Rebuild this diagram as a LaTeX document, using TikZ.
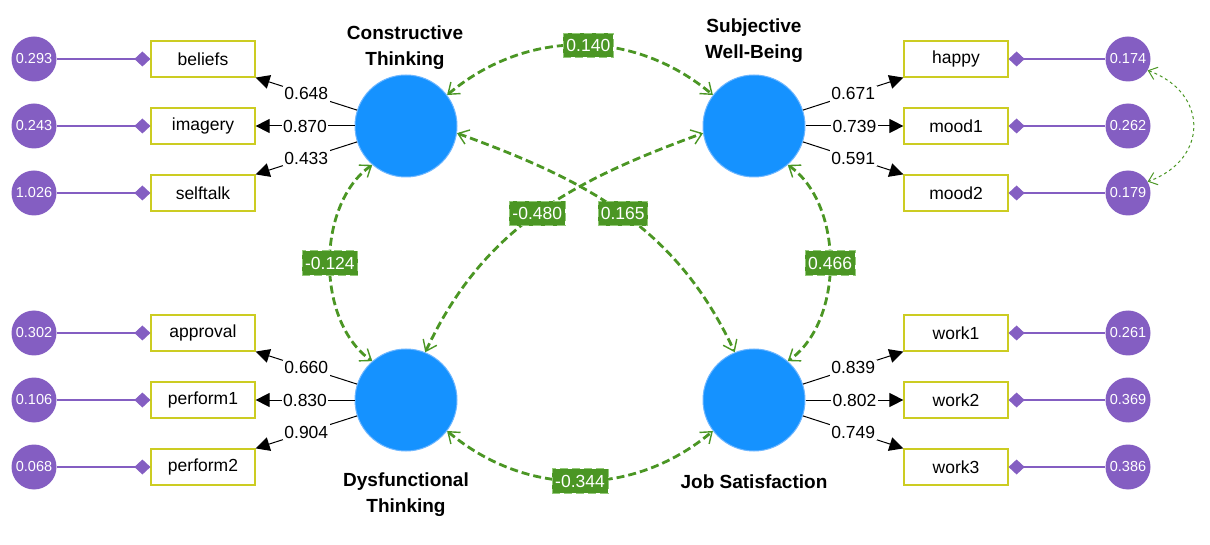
\documentclass[tikz,border=0pt]{standalone}
\usepackage{fontspec}
\setmainfont{Liberation Sans}
\usetikzlibrary{arrows.meta}

\definecolor{latblue}{HTML}{1592FF}
\definecolor{latedge}{HTML}{6DB6FF}
\definecolor{respurple}{HTML}{845EC2}
\definecolor{obsyellow}{HTML}{CCCC22}
\definecolor{covgreen}{HTML}{4B9624}
\definecolor{covedge}{HTML}{93C978}

\begin{document}
\begin{tikzpicture}[x=1pt, y=1pt,
  latent/.style={circle, minimum size=102pt, inner sep=0pt, fill=latblue, draw=latedge, line width=1pt},
  latname/.style={align=center, font=\fontsize{19}{26}\selectfont\bfseries},
  obs/.style={draw=obsyellow, line width=1.2pt, fill=white, minimum width=104pt, minimum height=36pt, inner sep=0pt, font=\fontsize{17.5}{20}\selectfont},
  res/.style={circle, minimum size=45pt, inner sep=0pt, fill=respurple, text=white, font=\fontsize{14.5}{16}\selectfont},
  resline/.style={respurple, line width=1.2pt, -{Diamond[length=16pt, width=15pt]}},
  load/.style={black, line width=1pt, -{Triangle[length=14pt, width=14pt]}},
  loadlab/.style={fill=white, inner sep=1.5pt, font=\fontsize{17.5}{20}\selectfont},
  cov/.style={covgreen, line width=2.8pt, dash pattern=on 8pt off 4pt,
    {Straight Barb[length=10pt, width=15pt, line width=1.4pt]}-{Straight Barb[length=10pt, width=15pt, line width=1.4pt]}},
  covlab/.style={fill=covgreen, draw=covedge, line width=0.6pt, text=white, inner xsep=3pt, inner ysep=6pt, text height=12.5pt, text depth=0pt, font=\fontsize{17.5}{20}\selectfont},
  rescov/.style={covgreen, line width=1pt, dash pattern=on 3pt off 3pt,
    {Straight Barb[length=8pt, width=13pt, line width=1pt]}-{Straight Barb[length=8pt, width=13pt, line width=1pt]}}]

\useasboundingbox (0,0) rectangle (1210,544);

\node[latent] (ct) at (406,418) {};
\node[latent] (swb) at (754,418) {};
\node[latent] (dt) at (406,144) {};
\node[latent] (js) at (754,144) {};

\node[latname] (ctname) at (405,496) {Constructive\\Thinking};
\node[latname] (swbname) at (754,503) {Subjective\\Well-Being};
\node[latname] (dtname) at (406,49) {Dysfunctional\\Thinking};
\node[latname] (jsname) at (754,62) {Job Satisfaction};

\node[obs] (beliefs) at (203,485) {beliefs};
\node[obs] (imagery) at (203,418) {imagery};
\node[obs] (selftalk) at (203,351) {selftalk};
\node[obs] (approval) at (203,211) {approval};
\node[obs] (perform1) at (203,144) {perform1};
\node[obs] (perform2) at (203,77) {perform2};

\node[obs] (happy) at (956,485) {happy};
\node[obs] (mood1) at (956,418) {mood1};
\node[obs] (mood2) at (956,351) {mood2};
\node[obs] (work1) at (956,211) {work1};
\node[obs] (work2) at (956,144) {work2};
\node[obs] (work3) at (956,77) {work3};

\node[res] (ebeliefs) at (34,485) {0.293};
\node[res] (eimagery) at (34,418) {0.243};
\node[res] (eselftalk) at (34,351) {1.026};
\node[res] (eapproval) at (34,211) {0.302};
\node[res] (eperform1) at (34,144) {0.106};
\node[res] (eperform2) at (34,77) {0.068};

\node[res] (ehappy) at (1128,485) {0.174};
\node[res] (emood1) at (1128,418) {0.262};
\node[res] (emood2) at (1128,351) {0.179};
\node[res] (ework1) at (1128,211) {0.261};
\node[res] (ework2) at (1128,144) {0.369};
\node[res] (ework3) at (1128,77) {0.386};

\draw[resline] (ebeliefs) -- (beliefs.west);
\draw[resline] (eimagery) -- (imagery.west);
\draw[resline] (eselftalk) -- (selftalk.west);
\draw[resline] (eapproval) -- (approval.west);
\draw[resline] (eperform1) -- (perform1.west);
\draw[resline] (eperform2) -- (perform2.west);

\draw[resline] (ehappy) -- (happy.east);
\draw[resline] (emood1) -- (mood1.east);
\draw[resline] (emood2) -- (mood2.east);
\draw[resline] (ework1) -- (work1.east);
\draw[resline] (ework2) -- (work2.east);
\draw[resline] (ework3) -- (work3.east);

\draw[load] (ct.162) -- (beliefs.south east) node[loadlab, midway] {0.648};
\draw[load] (ct.180) -- (imagery.east) node[loadlab, midway] {0.870};
\draw[load] (ct.198) -- (selftalk.north east) node[loadlab, midway] {0.433};

\draw[load] (dt.162) -- (approval.south east) node[loadlab, midway] {0.660};
\draw[load] (dt.180) -- (perform1.east) node[loadlab, midway] {0.830};
\draw[load] (dt.198) -- (perform2.north east) node[loadlab, midway] {0.904};

\draw[load] (swb.18) -- (happy.south west) node[loadlab, midway] {0.671};
\draw[load] (swb.0) -- (mood1.west) node[loadlab, midway] {0.739};
\draw[load] (swb.-18) -- (mood2.north west) node[loadlab, midway] {0.591};

\draw[load] (js.18) -- (work1.south west) node[loadlab, midway] {0.839};
\draw[load] (js.0) -- (work2.west) node[loadlab, midway] {0.802};
\draw[load] (js.-18) -- (work3.north west) node[loadlab, midway] {0.749};

\draw[cov] (ct.37) to[out=40, in=140] node[covlab, pos=0.53] {0.140} (swb.143);
\draw[cov] (dt.-37) to[out=-40, in=-140] node[covlab] {-0.344} (js.217);
\draw[cov] (ct.229) to[out=215, in=145, looseness=0.9] node[covlab] {-0.124} (dt.131);
\draw[cov] (swb.311) to[out=-35, in=35, looseness=0.9] node[covlab] {0.466} (js.49);
\draw[cov] (dt.68) to[out=65, in=200] node[covlab] {-0.480} (swb.188);
\draw[cov] (ct.352) to[out=-20, in=115] node[covlab] {0.165} (js.112);

\draw[rescov] (ehappy.-30) to[out=-20, in=20, looseness=1.5] (emood2.30);

\end{tikzpicture}
\end{document}
